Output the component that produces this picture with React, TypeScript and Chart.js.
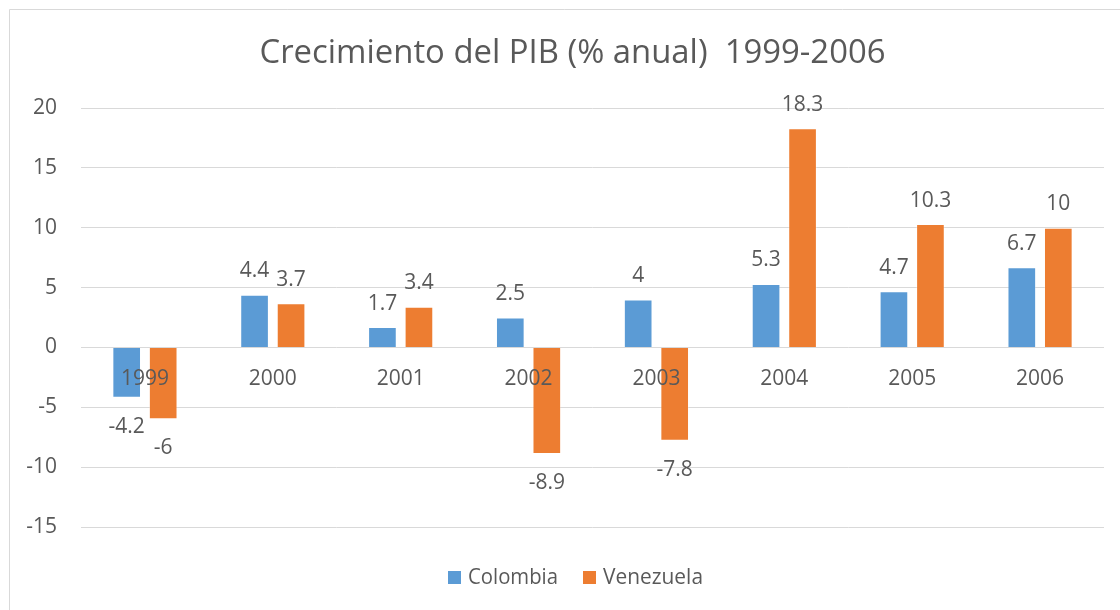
import React, { useEffect, useRef } from 'react';
import { Chart, registerables } from 'chart.js';

Chart.register(...registerables);

const categories = ['1999', '2000', '2001', '2002', '2003', '2004', '2005', '2006'];
const colombia = [-4.2, 4.4, 1.7, 2.5, 4, 5.3, 4.7, 6.7];
const venezuela = [-6, 3.7, 3.4, -8.9, -7.8, 18.3, 10.3, 10];
const seriesNames = ['Colombia', 'Venezuela'];
const seriesColors = ['#5B9BD5', '#ED7D31'];
const yMin = -15;
const yMax = 20;
const yStep = 5;
const titleText = 'Crecimiento del PIB (% anual)  1999-2006';

const FONT = '"Open Sans", sans-serif';
const TEXT = '#595959';
const GRID = '#D9D9D9';

export default function App() {
  const ref = useRef<HTMLCanvasElement>(null);

  useEffect(() => {
    const canvas = ref.current;
    if (!canvas) return;

    const custom = {
      id: 'customDraw',
      beforeDraw(chart: any) {
        const ctx = chart.ctx;
        ctx.save();
        ctx.fillStyle = '#ffffff';
        ctx.fillRect(0, 0, chart.width, chart.height);
        ctx.strokeStyle = GRID;
        ctx.lineWidth = 1;
        ctx.beginPath();
        ctx.moveTo(9.5, chart.height);
        ctx.lineTo(9.5, 9.5);
        ctx.lineTo(chart.width, 9.5);
        ctx.stroke();
        ctx.restore();
      },
      afterDatasetsDraw(chart: any) {
        const ctx = chart.ctx;
        const y = chart.scales.y;
        const x = chart.scales.x;
        const zero = y.getPixelForValue(0);
        ctx.save();
        ctx.fillStyle = TEXT;
        ctx.font = `21px ${FONT}`;
        ctx.textAlign = 'center';
        ctx.textBaseline = 'alphabetic';
        categories.forEach((c, i) => {
          ctx.fillText(c, x.getPixelForValue(i), zero + 38);
        });
        chart.data.datasets.forEach((ds: any, di: number) => {
          const meta = chart.getDatasetMeta(di);
          meta.data.forEach((bar: any, i: number) => {
            const v = ds.data[i];
            const label = String(v);
            if (v >= 0) {
              ctx.fillText(label, bar.x, bar.y - 17.5);
            } else {
              ctx.fillText(label, bar.x, bar.y + 35);
            }
          });
        });
        ctx.restore();
      },
      afterDraw(chart: any) {
        const ctx = chart.ctx;
        ctx.save();
        ctx.fillStyle = TEXT;
        ctx.textBaseline = 'alphabetic';
        ctx.textAlign = 'center';
        ctx.font = `33px ${FONT}`;
        ctx.fillText(titleText, 572.5, 63, 626);
        ctx.font = `21px ${FONT}`;
        ctx.textAlign = 'left';
        const items = [
          { sq: 448, tx: 468, w: 90 },
          { sq: 583, tx: 603, w: 100 },
        ];
        items.forEach((it, i) => {
          ctx.fillStyle = seriesColors[i];
          ctx.fillRect(it.sq, 571, 13, 13);
          ctx.fillStyle = TEXT;
          ctx.fillText(seriesNames[i], it.tx, 584, it.w);
        });
        ctx.restore();
      },
    };

    const chart = new Chart(canvas, {
      type: 'bar',
      data: {
        labels: categories,
        datasets: [
          {
            label: seriesNames[0],
            data: colombia,
            backgroundColor: seriesColors[0],
            borderColor: 'rgba(255,255,255,0.3)',
            borderWidth: 1,
          },
          {
            label: seriesNames[1],
            data: venezuela,
            backgroundColor: seriesColors[1],
            borderColor: 'rgba(255,255,255,0.3)',
            borderWidth: 1,
          },
        ],
      },
      options: {
        responsive: false,
        animation: false,
        devicePixelRatio: 1,
        layout: { padding: { top: 108, bottom: 83, left: 0, right: 16 } },
        datasets: {
          bar: { categoryPercentage: 0.571, barPercentage: 0.785 },
        } as any,
        plugins: {
          legend: { display: false },
          title: { display: false },
          tooltip: { enabled: false },
        },
        scales: {
          x: { display: false },
          y: {
            min: yMin,
            max: yMax,
            afterFit: (s: any) => {
              s.width = 81;
            },
            ticks: {
              stepSize: yStep,
              color: TEXT,
              font: { family: FONT, size: 21 },
              padding: 24,
            },
            grid: { color: GRID, lineWidth: 1, drawTicks: false },
            border: { display: false },
          },
        },
      },
      plugins: [custom],
    });

    return () => chart.destroy();
  }, []);

  return (
    <div style={{ position: 'fixed', left: 0, top: 0, width: 1120, height: 610, background: '#fff' }}>
      <canvas ref={ref} width={1120} height={610} style={{ display: 'block', width: 1120, height: 610 }} />
    </div>
  );
}
